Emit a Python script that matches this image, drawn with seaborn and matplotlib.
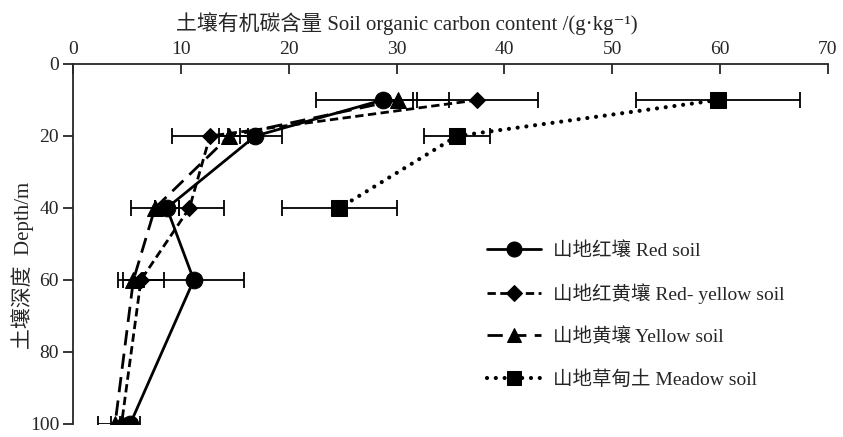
import matplotlib
matplotlib.use("Agg")
import matplotlib.pyplot as plt
import seaborn as sns
import pandas as pd

depth = [10, 20, 40, 60, 100]

red_soil = [28.7, 16.9, 8.7, 11.2, 5.3]
red_soil_err = [6.2, 2.5, 1.1, 4.7, 0.9]

red_yellow_soil = [37.5, 12.7, 10.8, 6.3, 4.5]
red_yellow_soil_err = [5.6, 3.5, 3.2, 2.1, 1.0]

yellow_soil = [30.1, 14.5, 7.6, 5.6, 3.9]
yellow_soil_err = [1.4, 1.0, 2.2, 1.0, 1.6]

meadow_soil = [59.8, 35.6, 24.7]
meadow_soil_err = [7.6, 3.1, 5.3]
meadow_depth = [10, 20, 40]

labels = ["山地红壤 Red soil", "山地红黄壤 Red- yellow soil",
          "山地黄壤 Yellow soil", "山地草甸土 Meadow soil"]

sns.set_style("ticks")
fam = ["Liberation Serif", "Noto Sans CJK SC", "DejaVu Serif"]
plt.rcParams["font.family"] = fam
plt.rcParams["axes.unicode_minus"] = False

fig = plt.figure(figsize=(8.43, 4.37), dpi=100)
ax = fig.add_axes([73/843, 1-424/437, (828-73)/843, (424-64)/437])

series = [
    (red_soil, red_soil_err, depth, labels[0], "o", 12, "-", 2.0),
    (red_yellow_soil, red_yellow_soil_err, depth, labels[1], "D", 8.5, (0, (3, 1.6)), 2.0),
    (yellow_soil, yellow_soil_err, depth, labels[2], "^", 11, (0, (5.5, 3)), 2.0),
    (meadow_soil, meadow_soil_err, meadow_depth, labels[3], "s", 11, (0, (0.01, 2.1)), 3.0),
]

for vals, errs, d, lab, mk, ms, ls, lw in series:
    ax.errorbar(vals, d, xerr=errs, fmt="none", ecolor="black", elinewidth=1.3,
                capsize=6, capthick=1.3, zorder=2)
    df = pd.DataFrame({"x": vals, "y": d})
    sns.lineplot(data=df, x="x", y="y", sort=False, estimator=None, ax=ax,
                 color="black", linewidth=lw, marker=mk, markersize=ms,
                 markeredgecolor="black", markerfacecolor="black",
                 linestyle=ls, label=lab, zorder=3,
                 dash_capstyle="round" if lab == labels[3] else "butt")

ax.set_xlim(0, 70)
ax.set_ylim(100, 0)
ax.xaxis.tick_top()
ax.xaxis.set_label_position("top")
ax.set_xticks(range(0, 71, 10))
ax.set_yticks(range(0, 101, 20))
ax.tick_params(axis="x", direction="in", length=7, width=1.3, labelsize=14, pad=4)
ax.tick_params(axis="y", direction="out", length=7, width=1.3, labelsize=14, pad=3)
for s in ["right", "bottom"]:
    ax.spines[s].set_visible(False)
for s in ["top", "left"]:
    ax.spines[s].set_linewidth(1.3)

ax.set_xlabel("土壤有机碳含量 Soil organic carbon content /(g·kg⁻¹)", fontsize=15)
ax.xaxis.set_label_coords(0.442, 1.095)
ax.set_ylabel("土壤深度  Depth/m", fontsize=15)
ax.yaxis.set_label_coords(-0.052, 0.44)

leg = ax.legend(loc="upper left", bbox_to_anchor=(0.525, 0.555), frameon=False,
                fontsize=14, handlelength=2.8, labelspacing=1.22, handletextpad=0.6,
                markerscale=0.9)

fig.savefig("out.png", dpi=100)
